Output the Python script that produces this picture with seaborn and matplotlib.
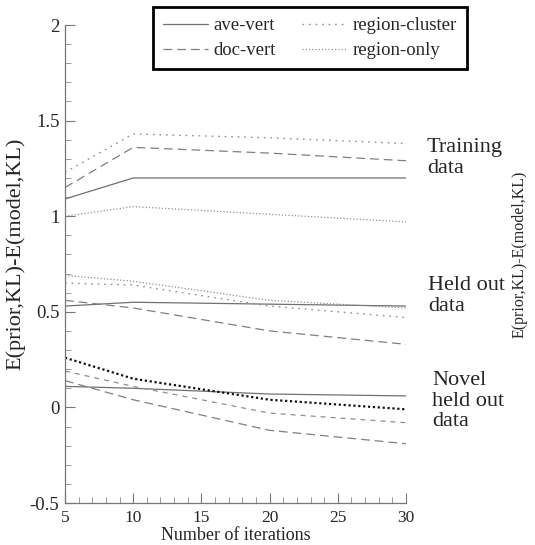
import numpy as np
import pandas as pd
import seaborn as sns
import matplotlib.pyplot as plt
from matplotlib.ticker import MultipleLocator, FuncFormatter

# iterations on the x axis
iterations = [5, 10, 20, 30]

methods = ['ave-vert', 'doc-vert', 'region-cluster', 'region-only']

# training data
train_ave_vert = [1.09, 1.20, 1.20, 1.20]
train_doc_vert = [1.15, 1.36, 1.33, 1.29]
train_region_cluster = [1.23, 1.43, 1.41, 1.38]
train_region_only = [1.00, 1.05, 1.01, 0.97]

# held out data
held_ave_vert = [0.53, 0.55, 0.54, 0.53]
held_doc_vert = [0.56, 0.52, 0.40, 0.33]
held_region_cluster = [0.65, 0.64, 0.53, 0.47]
held_region_only = [0.69, 0.66, 0.56, 0.52]

# novel held out data
novel_ave_vert = [0.11, 0.10, 0.07, 0.06]
novel_doc_vert = [0.14, 0.04, -0.12, -0.19]
novel_region_cluster = [0.19, 0.11, -0.03, -0.08]
novel_region_only = [0.26, 0.15, 0.04, -0.01]

groups = {
    'train': [train_ave_vert, train_doc_vert, train_region_cluster, train_region_only],
    'held': [held_ave_vert, held_doc_vert, held_region_cluster, held_region_only],
    'novel': [novel_ave_vert, novel_doc_vert, novel_region_cluster, novel_region_only],
}

styles = {
    'ave-vert': dict(color='#707070', linestyle='-', lw=0.9),
    'doc-vert': dict(color='#808080', linestyle=(0, (7, 4)), lw=0.9),
    'region-cluster': dict(color='#909090', linestyle=(0, (1.2, 3.5)), lw=1.0),
    'region-only': dict(color='#909090', linestyle=(0, (1, 1.6)), lw=0.9),
}

sns.set_style('ticks')
plt.rcParams['font.family'] = ['Liberation Serif', 'DejaVu Serif']
plt.rcParams['axes.unicode_minus'] = False

fig = plt.figure(figsize=(5.35, 5.45), dpi=100)
ax = fig.add_axes([65 / 535, 1 - 503 / 545, (406 - 65) / 535, (503 - 25) / 545])

handles = {}
for gname, series in groups.items():
    for m, vals in zip(methods, series):
        st = dict(styles[m])
        # the novel group is drawn a bit differently in the original
        if gname == 'novel' and m == 'region-only':
            st = dict(color='#111111', linestyle=(0, (1, 1.2)), lw=1.6)
        if gname == 'novel' and m == 'region-cluster':
            st = dict(color='#909090', linestyle=(0, (4, 4)), lw=0.9)
        df = pd.DataFrame({'it': iterations, 'val': vals})
        sns.lineplot(data=df, x='it', y='val', ax=ax, **st)
        if gname == 'train':
            handles[m] = ax.lines[-1]

ax.set_xlim(5, 30)
ax.set_ylim(-0.5, 2)
ax.xaxis.set_major_locator(MultipleLocator(5))
ax.xaxis.set_minor_locator(MultipleLocator(1))
ax.yaxis.set_major_locator(MultipleLocator(0.5))
ax.yaxis.set_minor_locator(MultipleLocator(0.1))
ax.yaxis.set_major_formatter(FuncFormatter(lambda v, p: f'{v:g}'))
ax.tick_params(which='major', direction='in', length=7, width=0.8, color='#777777', pad=4)
ax.tick_params(axis='y', which='major', labelsize=13.5)
ax.tick_params(axis='x', which='major', labelsize=12.5, pad=5)
ax.tick_params(which='minor', direction='in', length=4, width=0.6, color='#888888')
for s in ['top', 'right']:
    ax.spines[s].set_visible(False)
for s in ['left', 'bottom']:
    ax.spines[s].set_color('#777777')
    ax.spines[s].set_linewidth(0.9)

ax.set_xlabel('Number of iterations', fontsize=13, labelpad=1)
ax.set_ylabel('E(prior,KL)-E(model,KL)', fontsize=16)
ax.yaxis.set_label_coords((25 - 65) / 341, (503 - 254) / 478)

fig.text(520 / 535, 1 - 254 / 545, 'E(prior,KL)-E(model,KL)', rotation=90,
         ha='center', va='center', fontsize=11.5)

fig.text(427 / 535, 1 - 158 / 545, 'Training\ndata', ha='left', va='center',
         fontsize=16, linespacing=1.1)
fig.text(428 / 535, 1 - 296 / 545, 'Held out\ndata', ha='left', va='center',
         fontsize=16, linespacing=1.1)
fig.text(432 / 535, 1 - 401 / 545, 'Novel\nheld out\ndata', ha='left', va='center',
         fontsize=16, linespacing=1.1)

leg = fig.legend([handles[m] for m in methods], methods, ncol=2,
                 loc='upper center', bbox_to_anchor=(310 / 535, 1 - 7 / 545),
                 borderaxespad=0, fontsize=13.5, frameon=True, fancybox=False,
                 handlelength=2.4, columnspacing=1.4, handletextpad=0.3,
                 borderpad=0.55, labelspacing=0.4)
leg.get_frame().set_edgecolor('black')
leg.get_frame().set_linewidth(2)
leg.get_frame().set_alpha(1)

fig.savefig('out.png', dpi=100)
